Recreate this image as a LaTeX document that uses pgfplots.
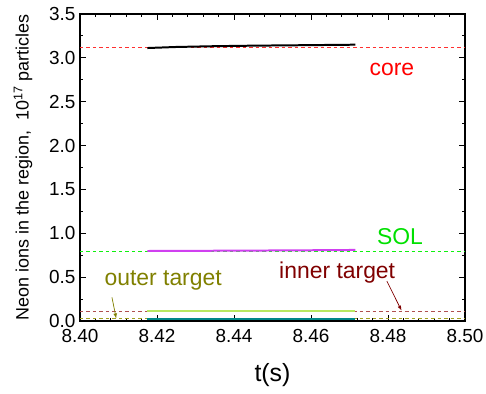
\documentclass[border=0pt]{standalone}
\usepackage{pgfplots}
\pgfplotsset{compat=1.18}
\usepackage{fontspec}
\setmainfont{Liberation Sans}
\definecolor{coreblk}{HTML}{000000}
\definecolor{coredash}{HTML}{FF3030}
\definecolor{solmag}{HTML}{D040F0}
\definecolor{soldash}{HTML}{10F010}
\definecolor{innerline}{HTML}{B8E860}
\definecolor{innerdash}{HTML}{B05050}
\definecolor{innerlab}{HTML}{800000}
\definecolor{outerline}{HTML}{008888}
\definecolor{outerdash}{HTML}{A0A020}
\definecolor{outerlab}{HTML}{808000}
\definecolor{sollab}{HTML}{00E000}
\begin{document}
\begin{tikzpicture}
\useasboundingbox (-80bp,-73bp) rectangle (406bp,321bp);
\begin{axis}[
  at={(0,0)}, anchor=south west,
  scale only axis, width=385bp, height=307bp,
  xmin=8.40, xmax=8.50, ymin=0, ymax=3.5,
  xtick={8.40,8.42,...,8.50}, ytick={0,0.5,...,3.5},
  minor x tick num=4, minor y tick num=1,
  tick align=inside, major tick length=6bp, minor tick length=3.5bp,
  axis line style={line width=1.1pt}, every tick/.style={black, line width=0.9pt},
  xticklabel style={yshift=-5bp, /pgf/number format/.cd, fixed, fixed zerofill, precision=2, assume math mode=true},
  yticklabel style={xshift=-1bp, /pgf/number format/.cd, fixed, fixed zerofill, precision=1, assume math mode=true},
  tick label style={font=\fontsize{19}{22}\selectfont},
  xlabel={t(s)}, xlabel style={font=\fontsize{25}{28}\selectfont, yshift=-14bp},
  ylabel={Neon ions in the region,\ \ 10\textsuperscript{17} particles},
  ylabel style={font=\fontsize{18}{21}\selectfont, yshift=10bp},
]
% dashed reference lines
\addplot[draw=coredash, line width=1.1pt, dash pattern=on 3.5bp off 3bp] coordinates {(8.40,3.12) (8.50,3.12)};
\addplot[draw=soldash, line width=1.1pt, dash pattern=on 3.5bp off 3bp] coordinates {(8.40,0.795) (8.50,0.795)};
\addplot[draw=innerdash, line width=1.1pt, dash pattern=on 3.5bp off 3bp] coordinates {(8.40,0.11) (8.50,0.11)};
\addplot[draw=outerdash, line width=1.1pt, dash pattern=on 3.5bp off 3bp] coordinates {(8.40,0.025) (8.50,0.025)};
% solid series
\addplot[draw=coreblk, line width=2pt] coordinates {(8.4175,3.112) (8.425,3.124) (8.435,3.133) (8.445,3.139) (8.455,3.143) (8.4715,3.150)};
\addplot[draw=solmag, line width=2pt] coordinates {(8.4175,0.798) (8.435,0.801) (8.455,0.805) (8.4715,0.810)};
\addplot[draw=innerline, line width=2pt] coordinates {(8.4175,0.11) (8.4715,0.11)};
\addplot[draw=outerline, line width=2pt] coordinates {(8.4175,0.025) (8.4715,0.025)};
% labels
\node[text=red, anchor=base, font=\fontsize{23}{26}\selectfont] at (axis cs:8.481,2.80) {core};
\node[text=sollab, anchor=base, font=\fontsize{23}{26}\selectfont] at (axis cs:8.4831,0.87) {SOL};
\node[text=innerlab, anchor=base, font=\fontsize{23}{26}\selectfont] at (axis cs:8.4668,0.48) {inner target};
\node[text=outerlab, anchor=base, font=\fontsize{23}{26}\selectfont] at (axis cs:8.4216,0.40) {outer target};
\draw[outerlab, line width=0.7pt, -latex] (axis cs:8.4083,0.27) -- (axis cs:8.4094,0.03);
\draw[innerlab, line width=0.7pt, -latex] (axis cs:8.4797,0.455) -- (axis cs:8.4835,0.12);
\end{axis}
\end{tikzpicture}
\end{document}
